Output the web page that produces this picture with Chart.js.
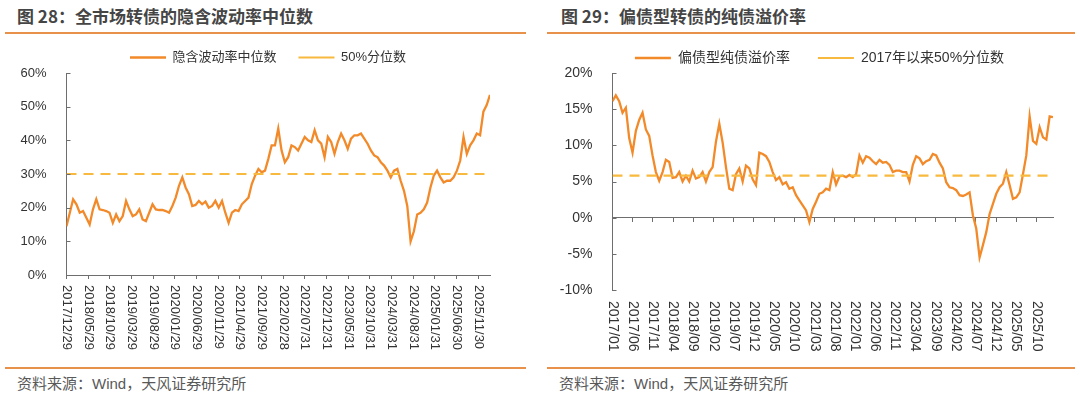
<!DOCTYPE html>
<html>
<head>
<meta charset="utf-8">
<script src="https://cdn.jsdelivr.net/npm/chart.js@4.4.1/dist/chart.umd.min.js"></script>
<style>
    body { margin: 0; width: 1080px; height: 395px; background: #fff; position: relative; overflow: hidden; font-family: "Noto Sans CJK SC", sans-serif; }
    .title { position: absolute; top: 4px; font-size: 17px; font-weight: 700; color: #454545; line-height: 24px; white-space: nowrap; }
    .rule { position: absolute; height: 1.5px; background: #E8914B; }
    .src { position: absolute; top: 373px; font-size: 15px; color: #595959; line-height: 22px; white-space: nowrap; font-family: "Liberation Sans", "Noto Sans CJK SC", sans-serif; }
    canvas { position: absolute; top: 40px; }
</style>
</head>
<body>
<div class="title" style="left:17px">图 28：全市场转债的隐含波动率中位数</div>
<div class="rule" style="left:5px;width:521px;top:32px"></div>
<div class="title" style="left:561px">图 29：偏债型转债的纯债溢价率</div>
<div class="rule" style="left:547px;width:528px;top:32px"></div>

<canvas id="leftChart" width="540" height="320" style="left:0"></canvas>
<canvas id="rightChart" width="540" height="320" style="left:540px"></canvas>

<div class="rule" style="left:5px;width:521px;top:367px"></div>
<div class="src" style="left:17px">资料来源：Wind，天风证券研究所</div>
<div class="rule" style="left:547px;width:528px;top:367px"></div>
<div class="src" style="left:559px">资料来源：Wind，天风证券研究所</div>

<script>
// ---- left chart data: implied volatility median (%), one point every ~3 weeks from 2017/12/29
const LEFT_STEP = 10 / 13.1; // months between points
const leftValues = [
    14.5, 18.5, 22.5, 21.0, 18.5, 19.0, 17.0, 15.0, 19.5, 22.5,
    19.5, 19.3, 19.0, 18.5, 15.5, 18.0, 16.0, 17.5, 22.0, 19.5,
    17.5, 18.0, 19.5, 16.5, 16.0, 18.5, 21.0, 19.5, 19.3, 19.3,
    19.0, 18.5, 20.5, 23.0, 26.5, 29.0, 26.0, 24.0, 20.5, 20.8,
    22.0, 21.0, 21.8, 20.0, 20.5, 22.0, 20.0, 22.0, 18.5, 15.5,
    18.5, 19.3, 19.0, 21.0, 22.0, 23.0, 27.0, 29.5, 31.5, 30.5,
    31.0, 34.5, 38.5, 38.5, 43.5, 37.0, 33.5, 35.0, 38.5, 38.0,
    37.0, 39.0, 41.0, 40.0, 39.5, 43.0, 40.0, 39.0, 35.0, 41.0,
    39.5, 36.0, 39.5, 42.0, 40.0, 37.5, 40.5, 41.5, 41.5, 42.0,
    40.5, 39.0, 37.0, 35.5, 35.0, 33.5, 32.5, 31.0, 29.0, 31.0,
    31.5, 28.0, 25.0, 20.5, 10.0, 13.0, 18.0, 18.5, 19.5, 21.5,
    26.0, 29.5, 31.0, 29.0, 27.5, 28.0, 28.0, 29.0, 31.0, 34.0,
    41.0, 36.0, 38.5, 40.0, 42.0, 41.5, 48.5, 50.5, 53.5
];
const leftMedian = 30;
const leftTickLabels = ['2017/12/29', '2018/05/29', '2018/10/29', '2019/03/29', '2019/08/29',
    '2020/01/29', '2020/06/29', '2020/11/29', '2021/04/29', '2021/09/29', '2022/02/28',
    '2022/07/31', '2022/12/31', '2023/05/31', '2023/10/31', '2024/03/31', '2024/08/31',
    '2025/01/31', '2025/06/30', '2025/11/30'];

// ---- right chart data: bond-like CB pure bond premium (%), from 2017/01
const RIGHT_STEP = 10 / 12.1;
const rightValues = [
    16.1, 16.9, 16.1, 14.5, 15.2, 11.0, 9.0, 12.0, 13.5, 14.5,
    12.2, 11.3, 8.6, 6.3, 5.1, 6.3, 8.0, 7.7, 5.5, 5.6,
    6.3, 5.0, 5.8, 5.0, 6.5, 5.4, 5.6, 6.3, 5.0, 6.3,
    7.0, 10.5, 13.0, 10.4, 7.0, 4.0, 3.8, 6.0, 6.8, 5.0,
    7.2, 6.8, 5.3, 4.5, 9.0, 8.8, 8.5, 7.7, 6.3, 5.2,
    5.6, 4.6, 4.9, 4.0, 4.2, 3.1, 2.4, 1.7, 1.0, -0.6,
    1.2, 2.2, 3.3, 3.5, 4.0, 3.8, 6.3, 4.6, 5.7, 5.8,
    5.6, 5.9, 5.6, 6.0, 8.6, 7.6, 8.5, 8.3, 7.8, 7.4,
    8.0, 7.6, 7.7, 7.3, 6.3, 6.5, 6.5, 6.3, 6.3, 5.0,
    7.3, 8.5, 8.2, 7.4, 7.8, 8.0, 8.8, 8.6, 7.6, 6.8,
    4.9, 4.2, 4.1, 3.8, 3.1, 3.0, 3.2, 3.5, 0.3, -1.5,
    -5.5, -3.8, -2.0, 0.5, 1.9, 3.3, 4.2, 4.7, 6.3, 4.5,
    2.6, 2.8, 3.5, 6.0, 8.6, 14.0, 10.6, 10.2, 12.5, 11.1,
    10.8, 14.0, 13.9
];
const rightMedian = 5.8;
const rightTickLabels = ['2017/01', '2017/06', '2017/11', '2018/04', '2018/09', '2019/02',
    '2019/07', '2019/12', '2020/05', '2020/10', '2021/03', '2021/08', '2022/01', '2022/06',
    '2022/11', '2023/04', '2023/09', '2024/02', '2024/07', '2024/12', '2025/05', '2025/10'];

const LINE_COLOR = '#F28A2A';
const DASH_COLOR = '#F7BA3E';
const AXIS_COLOR = '#6E6E6E';
const TEXT_COLOR = '#333333';
const FONT = '"Liberation Sans", "Noto Sans CJK SC", sans-serif';

// fixed legend height so the plot top lands where the reference has it,
// and a small sideways nudge of the legend box
const legendPlace = {
    id: 'legendPlace',
    afterInit(chart, args, opts) {
        const fit = chart.legend.fit;
        chart.legend.fit = function () {
            fit.call(this);
            this.height = opts.height;
        };
    },
    afterLayout(chart, args, opts) {
        chart.legend.left += opts.shift;
        chart.legend.right += opts.shift;
    }
};

// inward ticks on the y axis + date labels read top-to-bottom
const axisDecor = {
    id: 'axisDecor',
    afterDraw(chart, args, opts) {
        const ctx = chart.ctx;
        const x = chart.scales.x;
        const y = chart.scales.y;
        ctx.save();
        ctx.strokeStyle = AXIS_COLOR;
        ctx.lineWidth = 1;
        y.ticks.forEach(t => {
            const py = Math.round(y.getPixelForValue(t.value)) + 0.5;
            ctx.beginPath();
            ctx.moveTo(y.right, py);
            ctx.lineTo(y.right + 4, py);
            ctx.stroke();
        });
        ctx.fillStyle = TEXT_COLOR;
        ctx.font = opts.fontSize + 'px ' + FONT;
        ctx.textAlign = 'left';
        ctx.textBaseline = 'middle';
        const top = chart.chartArea.bottom + opts.gap;
        x.ticks.forEach((t, i) => {
            const px = x.getPixelForValue(t.value);
            ctx.save();
            ctx.translate(px, top);
            ctx.rotate(Math.PI / 2);
            ctx.fillText(opts.labels[i], 0, 0);
            ctx.restore();
        });
        ctx.restore();
    }
};

function makeChart(id, cfg) {
    const points = cfg.values.map((v, i) => ({ x: i * cfg.step, y: v }));
    const xMax = (cfg.values.length - 1) * cfg.step;
    const tickMonths = cfg.tickLabels.map((_, i) => i * 5);

    return new Chart(document.getElementById(id).getContext('2d'), {
        type: 'line',
        data: {
            datasets: [{
                label: cfg.seriesName,
                data: points,
                borderColor: LINE_COLOR,
                backgroundColor: LINE_COLOR,
                borderWidth: 2.3,
                pointRadius: 0,
                tension: 0,
                order: 2
            }, {
                label: cfg.medianName,
                data: [{ x: 0, y: cfg.median }, { x: xMax, y: cfg.median }],
                borderColor: DASH_COLOR,
                backgroundColor: DASH_COLOR,
                borderWidth: 2.2,
                borderDash: [10, 7],
                pointRadius: 0,
                order: 1
            }]
        },
        options: {
            responsive: false,
            animation: false,
            devicePixelRatio: 1,
            layout: { padding: cfg.padding },
            plugins: {
                legend: {
                    display: true,
                    labels: {
                        usePointStyle: true,
                        pointStyle: 'line',
                        pointStyleWidth: 36,
                        boxHeight: cfg.fontSize,
                        padding: cfg.legendGap,
                        color: TEXT_COLOR,
                        font: { size: cfg.fontSize, family: FONT },
                        sort: (a, b) => a.datasetIndex - b.datasetIndex
                    }
                },
                tooltip: { enabled: false },
                legendPlace: { height: cfg.legendHeight, shift: cfg.legendShift },
                axisDecor: { labels: cfg.tickLabels, gap: cfg.labelGap, fontSize: cfg.fontSize }
            },
            scales: {
                x: {
                    type: 'linear',
                    min: 0,
                    max: xMax,
                    position: cfg.xPosition,
                    afterBuildTicks: s => { s.ticks = tickMonths.map(v => ({ value: v })); },
                    afterFit: s => { s.height = cfg.xHeight; },
                    ticks: { display: false },
                    grid: { display: true, drawOnChartArea: false, drawTicks: true, tickLength: 4, color: AXIS_COLOR },
                    border: { display: true, color: AXIS_COLOR, width: 1 }
                },
                y: {
                    min: cfg.yMin,
                    max: cfg.yMax,
                    afterFit: s => { s.width = cfg.yWidth; },
                    ticks: {
                        stepSize: cfg.yStep,
                        padding: 12,
                        color: TEXT_COLOR,
                        font: { size: cfg.fontSize, family: FONT },
                        callback: v => v + '%'
                    },
                    grid: { display: false },
                    border: { display: true, color: AXIS_COLOR, width: 1 }
                }
            }
        },
        plugins: [legendPlace, axisDecor]
    });
}

makeChart('leftChart', {
    values: leftValues, step: LEFT_STEP, median: leftMedian, tickLabels: leftTickLabels,
    seriesName: '隐含波动率中位数', medianName: '50%分位数',
    yMin: 0, yMax: 60, yStep: 10, yWidth: 66.5, fontSize: 13,
    legendGap: 22, legendHeight: 44, legendShift: 23,
    xPosition: 'bottom', xHeight: 85, labelGap: 10,
    padding: { top: -11, right: 50, left: 0, bottom: 0 }
});

makeChart('rightChart', {
    values: rightValues, step: RIGHT_STEP, median: rightMedian, tickLabels: rightTickLabels,
    seriesName: '偏债型纯债溢价率', medianName: '2017年以来50%分位数',
    yMin: -10, yMax: 20, yStep: 5, yWidth: 72.5, fontSize: 14,
    legendGap: 28, legendHeight: 50, legendShift: 23,
    xPosition: { y: 0 }, xHeight: 0, labelGap: 11,
    padding: { top: -17, right: 27, left: 0, bottom: 70 }
});
</script>
</body>
</html>
